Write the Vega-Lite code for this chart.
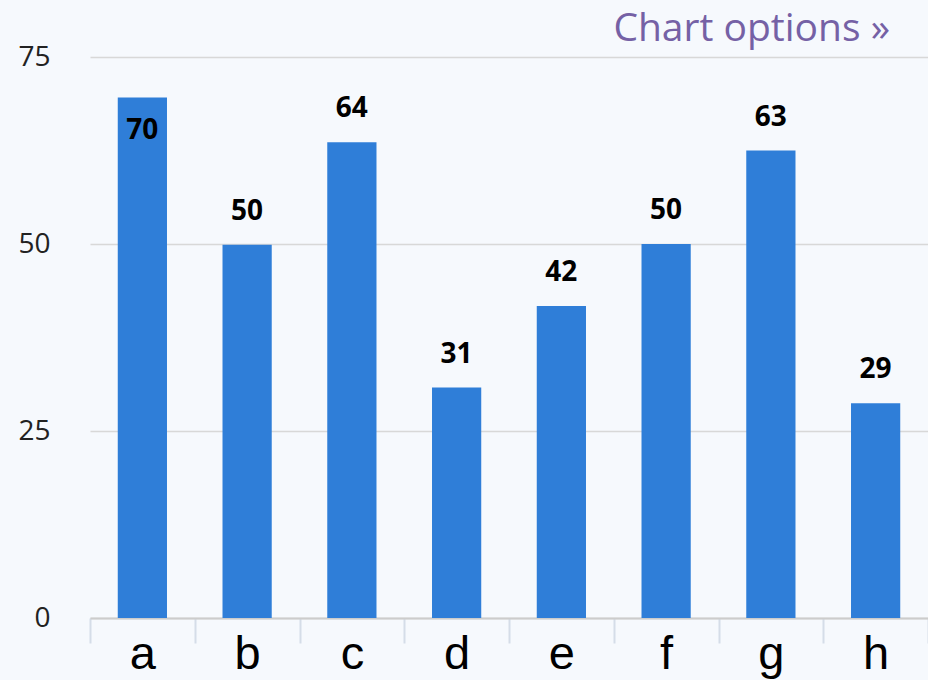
{
  "$schema": "https://vega.github.io/schema/vega-lite/v6.json",
  "autosize": "none",
  "width": 838,
  "height": 561,
  "padding": {"left": 90, "top": 57, "right": 0, "bottom": 62},
  "background": "#f6f9fd",
  "config": {"view": {"stroke": null}},
  "title": {
    "text": "Chart options »",
    "anchor": "end",
    "frame": "group",
    "orient": "top",
    "offset": -6,
    "dx": -38,
    "font": "Open Sans",
    "fontSize": 39,
    "fontWeight": "normal",
    "color": "#7561a5"
  },
  "data": {
    "values": [
      {"cat": "a", "value": 69.6},
      {"cat": "b", "value": 49.9},
      {"cat": "c", "value": 63.6},
      {"cat": "d", "value": 30.8},
      {"cat": "e", "value": 41.7},
      {"cat": "f", "value": 50.0},
      {"cat": "g", "value": 62.5},
      {"cat": "h", "value": 28.7}
    ]
  },
  "encoding": {
    "x": {
      "field": "cat",
      "type": "nominal",
      "scale": {"paddingInner": 0, "paddingOuter": 0},
      "axis": {
        "title": null,
        "labelAngle": 0,
        "labelFont": "Liberation Sans",
        "labelFontSize": 47,
        "labelColor": "#000000",
        "labelPadding": -12,
        "tickBand": "extent",
        "tickSize": 25,
        "tickColor": "#d5dde8",
        "tickWidth": 2,
        "domainColor": "#cccccc",
        "domainWidth": 2,
        "grid": false
      }
    },
    "y": {
      "field": "value",
      "type": "quantitative",
      "scale": {"domain": [0, 75], "nice": false},
      "axis": {
        "title": null,
        "values": [0, 25, 50, 75],
        "domain": false,
        "ticks": false,
        "labelFont": "Open Sans",
        "labelFontSize": 28,
        "labelColor": "#222222",
        "labelPadding": 40,
        "gridColor": "#d8d8d8",
        "gridWidth": 1.5
      }
    }
  },
  "layer": [
    {"mark": {"type": "bar", "color": "#2f7ed8", "width": {"band": 0.47}}},
    {
      "transform": [{"filter": "datum.value < 66"}],
      "mark": {"type": "text", "baseline": "middle", "dy": -33, "font": "Open Sans", "fontSize": 28, "fontWeight": "bold", "color": "#000000"},
      "encoding": {"text": {"field": "value", "type": "quantitative", "format": ".0f"}}
    },
    {
      "transform": [{"filter": "datum.value >= 66"}],
      "mark": {"type": "text", "baseline": "middle", "dy": 34, "font": "Open Sans", "fontSize": 28, "fontWeight": "bold", "color": "#000000"},
      "encoding": {"text": {"field": "value", "type": "quantitative", "format": ".0f"}}
    }
  ]
}
